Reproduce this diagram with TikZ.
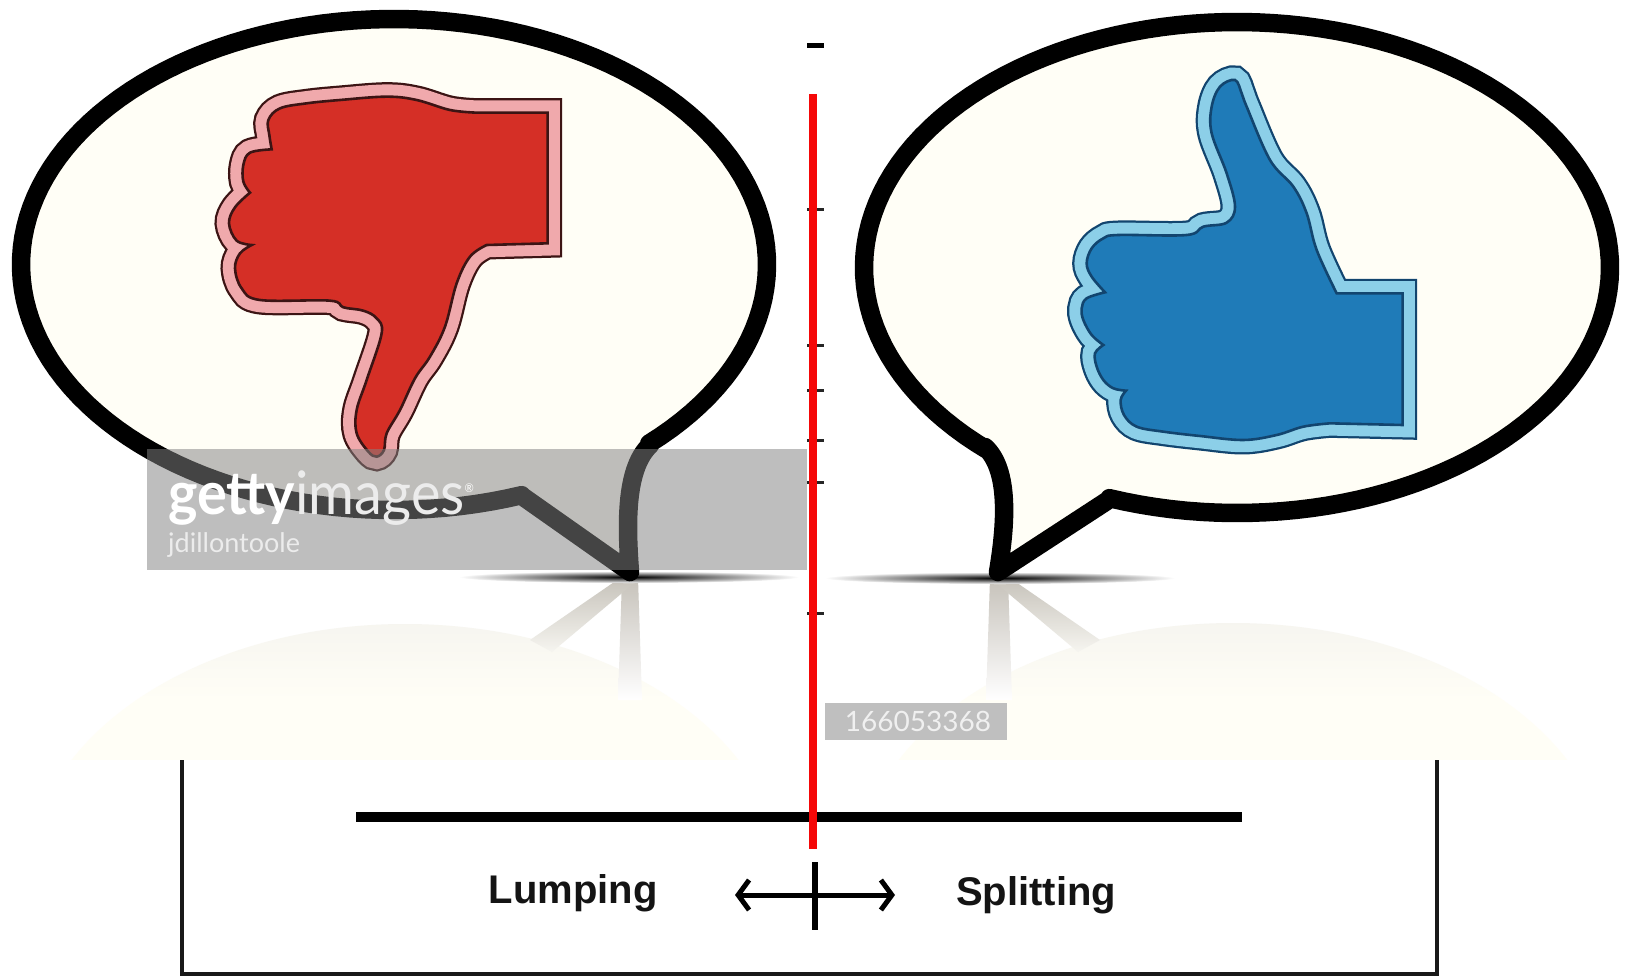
\documentclass[tikz,border=0pt]{standalone}
\usepackage{fontspec}
\setmainfont{Liberation Sans}
\newfontfamily\wmfont{Lato}
\usetikzlibrary{arrows.meta}
\definecolor{ivorybg}{HTML}{FFFEF6}
\definecolor{thumbred}{HTML}{D52F26}
\definecolor{thumbpink}{HTML}{F0A9AC}
\definecolor{darkred}{HTML}{3C1414}
\definecolor{thumbblue}{HTML}{1F7BB8}
\definecolor{thumbsky}{HTML}{8CCFE8}
\definecolor{darkblue}{HTML}{12456F}
\definecolor{marksgray}{HTML}{838383}
\definecolor{reflgray}{HTML}{C6C2BA}
\definecolor{reflpale}{HTML}{F6F5F0}
\definecolor{redline}{HTML}{F50808}
\tikzset{
  bubble/.style={draw=black,fill=ivorybg,line width=18.5pt,line join=round},
  refl/.style={top color=reflpale,bottom color=ivorybg,draw=none},
  tailrefl/.style={top color=reflgray,bottom color=white,draw=none},
  diagrefl/.style={top color=reflgray,bottom color=reflpale,draw=none},
  lens/.style={inner color=black,outer color=white},
  tickmark/.style={draw=black!85,line width=3pt},
  frameline/.style={draw=black!90,line width=4pt},
  biglabel/.style={font=\bfseries\fontsize{40}{40}\selectfont,text=black!92,inner sep=0pt},
  pxscope/.style={x=0.33333pt,y=-0.33333pt},
  thumbouter/.style={line width=29pt,line join=miter,miter limit=10},
  thumbband/.style={line width=24.5pt,line join=miter,miter limit=10},
  thumbinner/.style={line width=2.6pt,line join=miter,miter limit=10},
}
\def\dnpath{(1043,128) -- (1043,520)
 -- plot[smooth,tension=.6] coordinates {(860,525) (810,560) (770,640) (735,770) (690,860) (645,925) (600,1020) (560,1090) (552,1140) (530,1160) (505,1145) (470,1090) (470,1020) (500,930) (545,790) (530,745) (490,722) (430,712) (390,692) (180,690) (125,655) (105,595) (120,550) (155,525)}
 -- plot[smooth,tension=.6] coordinates {(155,525) (110,512) (87,460) (105,412) (150,368)}
 -- plot[smooth,tension=.6] coordinates {(150,368) (130,335) (130,285) (150,248) (215,238)}
 -- plot[smooth,tension=.6] coordinates {(215,238) (208,195) (205,150) (240,115) (320,100) (420,90) (560,80) (650,90) (750,120) (830,128)}
 -- cycle}
\def\uppath{(1058,730) -- (1058,1125)
 -- plot[smooth,tension=.6] coordinates {(840,1120) (760,1130) (680,1155) (580,1170) (450,1158) (340,1145) (260,1130) (222,1095) (212,1050) (228,1022)}
 -- plot[smooth,tension=.6] coordinates {(228,1022) (190,1015) (160,990) (140,950) (135,910) (160,885)}
 -- plot[smooth,tension=.6] coordinates {(160,885) (125,855) (100,810) (95,775) (110,745) (165,727)}
 -- plot[smooth,tension=.6] coordinates {(165,727) (125,680) (110,640) (125,595) (160,565) (205,555) (410,555) (460,530) (530,518) (555,470) (530,370) (485,250) (485,170) (510,110) (555,90) (575,130) (590,170) (660,330) (730,410) (770,490) (800,600) (860,730)}
 -- cycle}
\begin{document}
\begin{tikzpicture}[x=1pt,y=-1pt]
\useasboundingbox (0,0) rectangle (1630,976);
\fill[white] (0,0) rectangle (1630,976);

% reflections
\begin{scope}
  \clip (405,879) ellipse [x radius=377pt,y radius=255pt];
  \shade[refl] (0,620) rectangle (815,700);
  \fill[ivorybg] (0,700) rectangle (815,760);
\end{scope}
\begin{scope}
  \clip (1233,878) ellipse [x radius=377pt,y radius=255pt];
  \shade[refl] (815,620) rectangle (1630,700);
  \fill[ivorybg] (815,700) rectangle (1630,760);
\end{scope}

% bottom frame
\coordinate (fa) at (182,760);
\coordinate (fb) at (182,974);
\coordinate (fc) at (1437,974);
\coordinate (fd) at (1437,760);
\draw[frameline] (fa) -- (fb) -- (fc) -- (fd);

\shade[tailrefl] (622,578) -- (638,578) -- (642,700) -- (618,700) -- cycle;
\shade[diagrefl] (620,578) -- (640,578) -- (552,652) -- (530,640) -- cycle;
\shade[tailrefl] (1008,578) -- (990,578) -- (986,700) -- (1012,700) -- cycle;
\shade[diagrefl] (1010,578) -- (990,578) -- (1078,652) -- (1100,640) -- cycle;
\shade[lens] (629,577) ellipse [x radius=170pt,y radius=6pt];
\shade[lens] (1000,578) ellipse [x radius=175pt,y radius=6pt];

% left bubble
\coordinate (ltip) at (630,572);
\coordinate (lnotch) at (522,496);
\draw[bubble] (ltip) .. controls (626,520) and (626,468) .. (650,445)
  -- plot[domain=46.8:-290,samples=140] ({394+373*cos(\x)},{264.5+245.5*sin(\x)})
  -- (lnotch) -- cycle;

% right bubble
\coordinate (rtip) at (998,572);
\coordinate (rnotch) at (1110,499);
\draw[bubble] (rtip) .. controls (1006,525) and (1010,470) .. (985,447)
  -- plot[domain=132:470,samples=140] ({1237+373*cos(\x)},{267.5+245.5*sin(\x)})
  -- (rnotch) -- cycle;

% thumb down
\begin{scope}[pxscope,xshift=200pt,yshift=-70pt]
\draw[thumbouter,draw=darkred] \dnpath;
\draw[thumbband,draw=thumbpink] \dnpath;
\filldraw[thumbinner,fill=thumbred,draw=darkred] \dnpath;
\end{scope}

% thumb up
\begin{scope}[pxscope,xshift=1050pt,yshift=-50pt]
\draw[thumbouter,draw=darkblue] \uppath;
\draw[thumbband,draw=thumbsky] \uppath;
\filldraw[thumbinner,fill=thumbblue,draw=darkblue] \uppath;
\end{scope}

% watermark
\fill[marksgray,opacity=.52] (147,449) rectangle (807,570);
\node[anchor=base west,inner sep=0pt,text=white,xscale=.93] (gt) at (168,514)
  {\wmfont\fontsize{60}{60}\selectfont\textbf{getty}{\color{white!85!gray}images}\raisebox{22pt}{\fontsize{12}{12}\selectfont ®}};
\node[anchor=base west,inner sep=0pt,text=white!85!gray] (jd) at (168,552)
  {\wmfont\fontsize{27}{27}\selectfont jdillontoole};
\fill[black!25] (825,703) rectangle (1007,740);
\node[inner sep=0pt,text=white!88!gray] (idn) at (918,721)
  {\wmfont\fontsize{28}{28}\selectfont 166053368};

% ticks
\foreach \yy in {210,345,390,440,482,613}{
  \coordinate (ta) at (807,\yy);
  \coordinate (tb) at (824,\yy);
  \draw[tickmark] (ta) -- (tb);
}
\coordinate (t0a) at (807,46);
\coordinate (t0b) at (824,46);
\draw[draw=black,line width=5pt] (t0a) -- (t0b);

% scale line and red line
\coordinate (sa) at (356,817);
\coordinate (sb) at (1242,817);
\draw[line width=10pt,draw=black] (sa) -- (sb);
\coordinate (ra) at (813,94);
\coordinate (rb) at (813,849);
\draw[line width=7.5pt,draw=redline] (ra) -- (rb);

% lower labels
\coordinate (ca) at (815,862);
\coordinate (cb) at (815,930);
\draw[line width=6.5pt,draw=black] (ca) -- (cb);
\coordinate (aa) at (735,895);
\coordinate (ab) at (895,895);
\draw[line width=5pt,draw=black,{Straight Barb[length=11pt,width=30pt]}-{Straight Barb[length=11pt,width=30pt]}] (aa) -- (ab);
\node[biglabel] (lump) at (573,893) {Lumping};
\node[biglabel] (split) at (1036,895) {Splitting};
\end{tikzpicture}
\end{document}
